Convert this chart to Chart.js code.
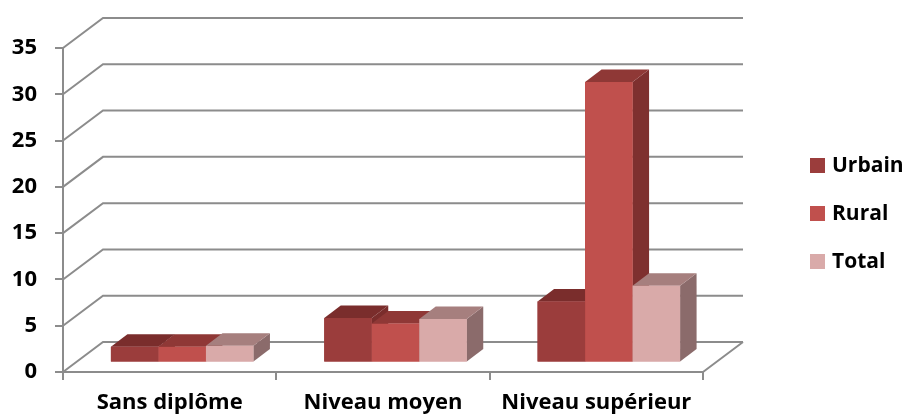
<!DOCTYPE html>
<html>
<head>
<meta charset="utf-8">
<script src="https://cdn.jsdelivr.net/npm/chart.js@4"></script>
<style>
  html, body { margin: 0; padding: 0; background: #fff; }
  #wrap { width: 908px; height: 418px; }
</style>
</head>
<body>
<div id="wrap"><canvas id="grafico"></canvas></div>
<script>
// donnees
const categorias = ["Sans diplôme", "Niveau moyen", "Niveau supérieur"];
const series = ["Urbain", "Rural", "Total"];
const urbain = [1.7, 4.8, 6.6];
const rural = [1.7, 4.2, 30.3];
const total = [1.8, 4.7, 8.3];
const yMin = 0, yMax = 35, yPas = 5;

// couleurs des faces (avant / dessus / cote)
const corFrente = ['#9B3D3C', '#C0504D', '#D9AAA9'];
const corTopo = ['#7A2D2C', '#8F3836', '#A67F7E'];
const corLado = ['#7A2D2C', '#7E302F', '#8B6B6B'];
const corLinha = '#8C8C8C';

// profondeur du mur (px) et position des barres dans cette profondeur
const PROF_X = 40, PROF_Y = 30;
const DEC_X = 12.5, DEC_Y = 9.5;
const BARRA_X = 16.5, BARRA_Y = 12.5;
const fonteEixo = { family: "'Open Sans'", size: 22, weight: 'bold' };
const fonteLegenda = { family: "'Open Sans'", size: 21, weight: 'bold' };

const efeito3d = {
    id: 'efeito3d',
    beforeDatasetsDraw(chart) {
        const ctx = chart.ctx;
        const a = chart.chartArea;
        const y = chart.scales.y;
        ctx.save();
        ctx.strokeStyle = corLinha;
        ctx.lineWidth = 2;
        ctx.beginPath();
        y.ticks.forEach(function (t) {
            const py = y.getPixelForValue(t.value);
            ctx.moveTo(a.left, py);
            ctx.lineTo(a.left + PROF_X, py - PROF_Y);
            ctx.lineTo(a.right + PROF_X, py - PROF_Y);
        });
        ctx.moveTo(a.right, a.bottom);
        ctx.lineTo(a.right + PROF_X, a.bottom - PROF_Y);
        ctx.stroke();
        ctx.restore();
        // les barres sont dessinees un peu en arriere du bord avant
        ctx.save();
        ctx.translate(DEC_X, -DEC_Y);
    },
    afterDatasetsDraw(chart) {
        const ctx = chart.ctx;
        for (let c = 0; c < categorias.length; c++) {
            for (let s = 0; s < series.length; s++) {
                const b = chart.getDatasetMeta(s).data[c];
                const L = b.x - b.width / 2, R = b.x + b.width / 2;
                const T = b.y, B = b.base;
                // cote droit
                ctx.fillStyle = corLado[s];
                ctx.beginPath();
                ctx.moveTo(R, T);
                ctx.lineTo(R + BARRA_X, T - BARRA_Y);
                ctx.lineTo(R + BARRA_X, B - BARRA_Y);
                ctx.lineTo(R, B);
                ctx.closePath();
                ctx.fill();
                // dessus
                ctx.fillStyle = corTopo[s];
                ctx.beginPath();
                ctx.moveTo(L, T);
                ctx.lineTo(L + BARRA_X, T - BARRA_Y);
                ctx.lineTo(R + BARRA_X, T - BARRA_Y);
                ctx.lineTo(R, T);
                ctx.closePath();
                ctx.fill();
                // face avant
                ctx.fillStyle = corFrente[s];
                ctx.fillRect(L, T, R - L, B - T);
            }
        }
        ctx.restore();
    },
    afterDraw(chart) {
        // legende a droite
        const ctx = chart.ctx;
        ctx.save();
        ctx.font = 'bold ' + fonteLegenda.size + 'px ' + fonteLegenda.family;
        ctx.textBaseline = 'middle';
        for (let s = 0; s < series.length; s++) {
            const yy = 158 + 48 * s;
            ctx.fillStyle = corFrente[s];
            ctx.fillRect(810, yy, 15, 15);
            ctx.fillStyle = '#000';
            ctx.fillText(chart.data.datasets[s].label, 832, yy + 8);
        }
        ctx.restore();
    }
};

const ctx = document.getElementById('grafico');
new Chart(ctx, {
    type: 'bar',
    data: {
        labels: categorias,
        datasets: [
            { label: series[0], data: urbain, backgroundColor: corFrente[0] },
            { label: series[1], data: rural, backgroundColor: corFrente[1] },
            { label: series[2], data: total, backgroundColor: corFrente[2] }
        ]
    },
    options: {
        responsive: true,
        maintainAspectRatio: false,
        animation: false,
        clip: false,
        categoryPercentage: 0.668,
        barPercentage: 1,
        borderWidth: 0,
        layout: { padding: { left: 0, top: 48, right: 205, bottom: 0 } },
        plugins: { legend: { display: false }, tooltip: { enabled: false } },
        scales: {
            x: {
                afterFit: function (scale) { scale.height = 46; },
                grid: { display: true, drawOnChartArea: false, drawTicks: true, tickLength: 8, color: corLinha, lineWidth: 2, offset: true },
                border: { display: true, color: corLinha, width: 2 },
                ticks: { color: '#000', font: fonteEixo, padding: 10, maxRotation: 0 }
            },
            y: {
                min: yMin,
                max: yMax,
                afterFit: function (scale) { scale.width = 63; },
                grid: { display: true, drawOnChartArea: false, drawTicks: true, tickLength: 8, color: corLinha, lineWidth: 2 },
                border: { display: true, color: corLinha, width: 2 },
                ticks: { stepSize: yPas, color: '#000', font: fonteEixo, padding: 18 }
            }
        }
    },
    plugins: [efeito3d]
});
</script>
</body>
</html>
